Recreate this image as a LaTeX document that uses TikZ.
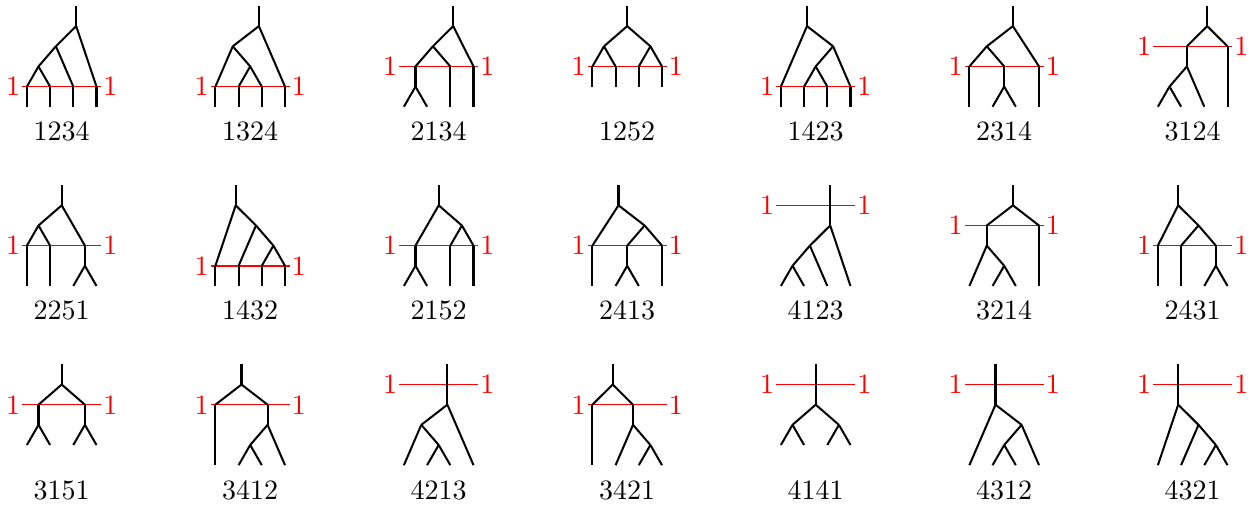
\documentclass[tikz,border=0pt]{standalone}
\begin{document}
\tikzset{
  treeat/.style 2 args={shift={(#1,#2)},x=8.2857pt,y=-7.1964pt},
  br/.style={line width=0.72pt,line join=round},
  paint/.style={red,line width=0.55pt},
  one/.style={text=red,inner sep=0.6pt},
  lab/.style={anchor=base,inner sep=0pt},
}
\newcommand\mypaint[2]{%
  \coordinate (#1pL) at (-0.2,#2);
  \coordinate (#1pR) at (3.2,#2);
  \draw[paint] (#1pL) -- (#1pR);
  \node[one,anchor=east] (#1oL) at (#1pL) {1};
  \node[one,anchor=west] (#1oR) at (#1pR) {1};}
\newcommand\myleaves[2]{%
  \foreach \i in {1,...,4} {\coordinate (#1l\i) at ({\i-1},#2);}}
\newcommand\mycross[2]{%
  \foreach \i in {1,...,4} {\coordinate (#1c\i) at ({\i-1},#2);}}
\newcommand\mylabel[2]{\node[lab] (#1t) at (1.5,6.687) {#2};}
\begin{tikzpicture}[x=0.35714pt,y=-0.35714pt]
\useasboundingbox (0,0) rectangle (1252,508);

% ---------------- Row 1 ----------------
% 1234
\begin{scope}[treeat={26.9}{6}]
\mypaint{a1}{4}\myleaves{a1}{5}\mycross{a1}{4}
\coordinate (a1s) at (2.125,0);
\coordinate (a1r) at (2.125,1);
\coordinate (a1n) at (1.25,2);
\coordinate (a1m) at (0.5,3);
\draw[br] (a1s) -- (a1r);
\draw[br] (a1r) -- (a1c4);
\draw[br] (a1r) -- (a1n);
\draw[br] (a1n) -- (a1c3);
\draw[br] (a1n) -- (a1m);
\draw[br] (a1m) -- (a1c2);
\draw[br] (a1m) -- (a1c1);
\foreach \i in {1,...,4} {\draw[br] (a1c\i) -- (a1l\i);}
\mylabel{a1}{1234}
\end{scope}
% 1324
\begin{scope}[treeat={215.4}{6}]
\mypaint{a2}{4}\myleaves{a2}{5}\mycross{a2}{4}
\coordinate (a2s) at (1.875,0);
\coordinate (a2r) at (1.875,1);
\coordinate (a2n) at (0.75,2);
\coordinate (a2m) at (1.5,3);
\draw[br] (a2s) -- (a2r);
\draw[br] (a2r) -- (a2n);
\draw[br] (a2r) -- (a2c4);
\draw[br] (a2n) -- (a2c1);
\draw[br] (a2n) -- (a2m);
\draw[br] (a2m) -- (a2c2);
\draw[br] (a2m) -- (a2c3);
\foreach \i in {1,...,4} {\draw[br] (a2c\i) -- (a2l\i);}
\mylabel{a2}{1324}
\end{scope}
% 2134
\begin{scope}[treeat={403.9}{6}]
\mypaint{a3}{3}\myleaves{a3}{5}
\coordinate (a3s) at (2.125,0);
\coordinate (a3r) at (2.125,1);
\coordinate (a3n) at (1.25,2);
\coordinate (a3ca) at (0.5,3);
\coordinate (a3cb) at (2,3);
\coordinate (a3cc) at (3,3);
\coordinate (a3v) at (0.5,4);
\draw[br] (a3s) -- (a3r);
\draw[br] (a3r) -- (a3n);
\draw[br] (a3r) -- (a3cc);
\draw[br] (a3n) -- (a3ca);
\draw[br] (a3n) -- (a3cb);
\draw[br] (a3ca) -- (a3v);
\draw[br] (a3v) -- (a3l1);
\draw[br] (a3v) -- (a3l2);
\draw[br] (a3cb) -- (a3l3);
\draw[br] (a3cc) -- (a3l4);
\mylabel{a3}{2134}
\end{scope}
% 1252
\begin{scope}[treeat={592.4}{6}]
\mypaint{a4}{3}\myleaves{a4}{4}\mycross{a4}{3}
\coordinate (a4s) at (1.5,0);
\coordinate (a4r) at (1.5,1);
\coordinate (a4n) at (0.5,2);
\coordinate (a4m) at (2.5,2);
\draw[br] (a4s) -- (a4r);
\draw[br] (a4r) -- (a4n);
\draw[br] (a4r) -- (a4m);
\draw[br] (a4n) -- (a4c1);
\draw[br] (a4n) -- (a4c2);
\draw[br] (a4m) -- (a4c3);
\draw[br] (a4m) -- (a4c4);
\foreach \i in {1,...,4} {\draw[br] (a4c\i) -- (a4l\i);}
\mylabel{a4}{1252}
\end{scope}
% 1423
\begin{scope}[treeat={780.9}{6}]
\mypaint{a5}{4}\myleaves{a5}{5}\mycross{a5}{4}
\coordinate (a5s) at (1.125,0);
\coordinate (a5r) at (1.125,1);
\coordinate (a5n) at (2.25,2);
\coordinate (a5m) at (1.5,3);
\draw[br] (a5s) -- (a5r);
\draw[br] (a5r) -- (a5c1);
\draw[br] (a5r) -- (a5n);
\draw[br] (a5n) -- (a5m);
\draw[br] (a5n) -- (a5c4);
\draw[br] (a5m) -- (a5c2);
\draw[br] (a5m) -- (a5c3);
\foreach \i in {1,...,4} {\draw[br] (a5c\i) -- (a5l\i);}
\mylabel{a5}{1423}
\end{scope}
% 2314
\begin{scope}[treeat={969.4}{6}]
\mypaint{a6}{3}\myleaves{a6}{5}
\coordinate (a6s) at (1.875,0);
\coordinate (a6r) at (1.875,1);
\coordinate (a6n) at (0.75,2);
\coordinate (a6ca) at (0,3);
\coordinate (a6cb) at (1.5,3);
\coordinate (a6cc) at (3,3);
\coordinate (a6v) at (1.5,4);
\draw[br] (a6s) -- (a6r);
\draw[br] (a6r) -- (a6n);
\draw[br] (a6r) -- (a6cc);
\draw[br] (a6n) -- (a6ca);
\draw[br] (a6n) -- (a6cb);
\draw[br] (a6ca) -- (a6l1);
\draw[br] (a6cb) -- (a6v);
\draw[br] (a6v) -- (a6l2);
\draw[br] (a6v) -- (a6l3);
\draw[br] (a6cc) -- (a6l4);
\mylabel{a6}{2314}
\end{scope}
% 3124
\begin{scope}[treeat={1157.9}{6}]
\mypaint{a7}{2}\myleaves{a7}{5}
\coordinate (a7s) at (2.125,0);
\coordinate (a7r) at (2.125,1);
\coordinate (a7ca) at (1.25,2);
\coordinate (a7cb) at (3,2);
\coordinate (a7n) at (1.25,3);
\coordinate (a7v) at (0.5,4);
\draw[br] (a7s) -- (a7r);
\draw[br] (a7r) -- (a7ca);
\draw[br] (a7r) -- (a7cb);
\draw[br] (a7ca) -- (a7n);
\draw[br] (a7n) -- (a7v);
\draw[br] (a7n) -- (a7l3);
\draw[br] (a7v) -- (a7l1);
\draw[br] (a7v) -- (a7l2);
\draw[br] (a7cb) -- (a7l4);
\mylabel{a7}{3124}
\end{scope}

% ---------------- Row 2 ----------------
% 2251
\begin{scope}[treeat={26.9}{185.2}]
\mypaint{b1}{3}\myleaves{b1}{5}
\coordinate (b1s) at (1.5,0);
\coordinate (b1r) at (1.5,1);
\coordinate (b1n) at (0.5,2);
\coordinate (b1ca) at (0,3);
\coordinate (b1cb) at (1,3);
\coordinate (b1cc) at (2.5,3);
\coordinate (b1v) at (2.5,4);
\draw[br] (b1s) -- (b1r);
\draw[br] (b1r) -- (b1n);
\draw[br] (b1r) -- (b1cc);
\draw[br] (b1n) -- (b1ca);
\draw[br] (b1n) -- (b1cb);
\draw[br] (b1ca) -- (b1l1);
\draw[br] (b1cb) -- (b1l2);
\draw[br] (b1cc) -- (b1v);
\draw[br] (b1v) -- (b1l3);
\draw[br] (b1v) -- (b1l4);
\mylabel{b1}{2251}
\end{scope}
% 1432
\begin{scope}[treeat={215.4}{185.2}]
\mypaint{b2}{4}\myleaves{b2}{5}\mycross{b2}{4}
\coordinate (b2s) at (0.875,0);
\coordinate (b2r) at (0.875,1);
\coordinate (b2n) at (1.75,2);
\coordinate (b2m) at (2.5,3);
\draw[br] (b2s) -- (b2r);
\draw[br] (b2r) -- (b2c1);
\draw[br] (b2r) -- (b2n);
\draw[br] (b2n) -- (b2c2);
\draw[br] (b2n) -- (b2m);
\draw[br] (b2m) -- (b2c3);
\draw[br] (b2m) -- (b2c4);
\foreach \i in {1,...,4} {\draw[br] (b2c\i) -- (b2l\i);}
\mylabel{b2}{1432}
\end{scope}
% 2152
\begin{scope}[treeat={403.9}{185.2}]
\mypaint{b3}{3}\myleaves{b3}{5}
\coordinate (b3s) at (1.5,0);
\coordinate (b3r) at (1.5,1);
\coordinate (b3n) at (2.5,2);
\coordinate (b3ca) at (0.5,3);
\coordinate (b3cb) at (2,3);
\coordinate (b3cc) at (3,3);
\coordinate (b3v) at (0.5,4);
\draw[br] (b3s) -- (b3r);
\draw[br] (b3r) -- (b3ca);
\draw[br] (b3r) -- (b3n);
\draw[br] (b3n) -- (b3cb);
\draw[br] (b3n) -- (b3cc);
\draw[br] (b3ca) -- (b3v);
\draw[br] (b3v) -- (b3l1);
\draw[br] (b3v) -- (b3l2);
\draw[br] (b3cb) -- (b3l3);
\draw[br] (b3cc) -- (b3l4);
\mylabel{b3}{2152}
\end{scope}
% 2413
\begin{scope}[treeat={592.4}{185.2}]
\mypaint{b4}{3}\myleaves{b4}{5}
\coordinate (b4s) at (1.125,0);
\coordinate (b4r) at (1.125,1);
\coordinate (b4n) at (2.25,2);
\coordinate (b4ca) at (0,3);
\coordinate (b4cb) at (1.5,3);
\coordinate (b4cc) at (3,3);
\coordinate (b4v) at (1.5,4);
\draw[br] (b4s) -- (b4r);
\draw[br] (b4r) -- (b4ca);
\draw[br] (b4r) -- (b4n);
\draw[br] (b4n) -- (b4cb);
\draw[br] (b4n) -- (b4cc);
\draw[br] (b4ca) -- (b4l1);
\draw[br] (b4cb) -- (b4v);
\draw[br] (b4v) -- (b4l2);
\draw[br] (b4v) -- (b4l3);
\draw[br] (b4cc) -- (b4l4);
\mylabel{b4}{2413}
\end{scope}
% 4123
\begin{scope}[treeat={780.9}{185.2}]
\mypaint{b5}{1}\myleaves{b5}{5}
\coordinate (b5s) at (2.125,0);
\coordinate (b5c) at (2.125,1);
\coordinate (b5r) at (2.125,2);
\coordinate (b5n) at (1.25,3);
\coordinate (b5v) at (0.5,4);
\draw[br] (b5s) -- (b5c) -- (b5r);
\draw[br] (b5r) -- (b5n);
\draw[br] (b5r) -- (b5l4);
\draw[br] (b5n) -- (b5v);
\draw[br] (b5n) -- (b5l3);
\draw[br] (b5v) -- (b5l1);
\draw[br] (b5v) -- (b5l2);
\mylabel{b5}{4123}
\end{scope}
% 3214
\begin{scope}[treeat={969.4}{185.2}]
\mypaint{b6}{2}\myleaves{b6}{5}
\coordinate (b6s) at (1.875,0);
\coordinate (b6r) at (1.875,1);
\coordinate (b6ca) at (0.75,2);
\coordinate (b6cb) at (3,2);
\coordinate (b6n) at (0.75,3);
\coordinate (b6v) at (1.5,4);
\draw[br] (b6s) -- (b6r);
\draw[br] (b6r) -- (b6ca);
\draw[br] (b6r) -- (b6cb);
\draw[br] (b6ca) -- (b6n);
\draw[br] (b6n) -- (b6l1);
\draw[br] (b6n) -- (b6v);
\draw[br] (b6v) -- (b6l2);
\draw[br] (b6v) -- (b6l3);
\draw[br] (b6cb) -- (b6l4);
\mylabel{b6}{3214}
\end{scope}
% 2431
\begin{scope}[treeat={1157.9}{185.2}]
\mypaint{b7}{3}\myleaves{b7}{5}
\coordinate (b7s) at (0.875,0);
\coordinate (b7r) at (0.875,1);
\coordinate (b7n) at (1.75,2);
\coordinate (b7ca) at (0,3);
\coordinate (b7cb) at (1,3);
\coordinate (b7cc) at (2.5,3);
\coordinate (b7v) at (2.5,4);
\draw[br] (b7s) -- (b7r);
\draw[br] (b7r) -- (b7ca);
\draw[br] (b7r) -- (b7n);
\draw[br] (b7n) -- (b7cb);
\draw[br] (b7n) -- (b7cc);
\draw[br] (b7ca) -- (b7l1);
\draw[br] (b7cb) -- (b7l2);
\draw[br] (b7cc) -- (b7v);
\draw[br] (b7v) -- (b7l3);
\draw[br] (b7v) -- (b7l4);
\mylabel{b7}{2431}
\end{scope}

% ---------------- Row 3 ----------------
% 3151
\begin{scope}[treeat={26.9}{364.4}]
\mypaint{c1}{2}\myleaves{c1}{4}
\coordinate (c1s) at (1.5,0);
\coordinate (c1r) at (1.5,1);
\coordinate (c1ca) at (0.5,2);
\coordinate (c1cb) at (2.5,2);
\coordinate (c1v) at (0.5,3);
\coordinate (c1w) at (2.5,3);
\draw[br] (c1s) -- (c1r);
\draw[br] (c1r) -- (c1ca);
\draw[br] (c1r) -- (c1cb);
\draw[br] (c1ca) -- (c1v);
\draw[br] (c1cb) -- (c1w);
\draw[br] (c1v) -- (c1l1);
\draw[br] (c1v) -- (c1l2);
\draw[br] (c1w) -- (c1l3);
\draw[br] (c1w) -- (c1l4);
\mylabel{c1}{3151}
\end{scope}
% 3412
\begin{scope}[treeat={215.4}{364.4}]
\mypaint{c2}{2}\myleaves{c2}{5}
\coordinate (c2s) at (1.125,0);
\coordinate (c2r) at (1.125,1);
\coordinate (c2ca) at (0,2);
\coordinate (c2cb) at (2.25,2);
\coordinate (c2n) at (2.25,3);
\coordinate (c2v) at (1.5,4);
\draw[br] (c2s) -- (c2r);
\draw[br] (c2r) -- (c2ca);
\draw[br] (c2r) -- (c2cb);
\draw[br] (c2ca) -- (c2l1);
\draw[br] (c2cb) -- (c2n);
\draw[br] (c2n) -- (c2v);
\draw[br] (c2n) -- (c2l4);
\draw[br] (c2v) -- (c2l2);
\draw[br] (c2v) -- (c2l3);
\mylabel{c2}{3412}
\end{scope}
% 4213
\begin{scope}[treeat={403.9}{364.4}]
\mypaint{c3}{1}\myleaves{c3}{5}
\coordinate (c3s) at (1.875,0);
\coordinate (c3c) at (1.875,1);
\coordinate (c3r) at (1.875,2);
\coordinate (c3n) at (0.75,3);
\coordinate (c3v) at (1.5,4);
\draw[br] (c3s) -- (c3c) -- (c3r);
\draw[br] (c3r) -- (c3n);
\draw[br] (c3r) -- (c3l4);
\draw[br] (c3n) -- (c3l1);
\draw[br] (c3n) -- (c3v);
\draw[br] (c3v) -- (c3l2);
\draw[br] (c3v) -- (c3l3);
\mylabel{c3}{4213}
\end{scope}
% 3421
\begin{scope}[treeat={592.4}{364.4}]
\mypaint{c4}{2}\myleaves{c4}{5}
\coordinate (c4s) at (0.875,0);
\coordinate (c4r) at (0.875,1);
\coordinate (c4ca) at (0,2);
\coordinate (c4cb) at (1.75,2);
\coordinate (c4n) at (1.75,3);
\coordinate (c4v) at (2.5,4);
\draw[br] (c4s) -- (c4r);
\draw[br] (c4r) -- (c4ca);
\draw[br] (c4r) -- (c4cb);
\draw[br] (c4ca) -- (c4l1);
\draw[br] (c4cb) -- (c4n);
\draw[br] (c4n) -- (c4l2);
\draw[br] (c4n) -- (c4v);
\draw[br] (c4v) -- (c4l3);
\draw[br] (c4v) -- (c4l4);
\mylabel{c4}{3421}
\end{scope}
% 4141
\begin{scope}[treeat={780.9}{364.4}]
\mypaint{c5}{1}\myleaves{c5}{4}
\coordinate (c5s) at (1.5,0);
\coordinate (c5c) at (1.5,1);
\coordinate (c5r) at (1.5,2);
\coordinate (c5v) at (0.5,3);
\coordinate (c5w) at (2.5,3);
\draw[br] (c5s) -- (c5c) -- (c5r);
\draw[br] (c5r) -- (c5v);
\draw[br] (c5r) -- (c5w);
\draw[br] (c5v) -- (c5l1);
\draw[br] (c5v) -- (c5l2);
\draw[br] (c5w) -- (c5l3);
\draw[br] (c5w) -- (c5l4);
\mylabel{c5}{4141}
\end{scope}
% 4312
\begin{scope}[treeat={969.4}{364.4}]
\mypaint{c6}{1}\myleaves{c6}{5}
\coordinate (c6s) at (1.125,0);
\coordinate (c6c) at (1.125,1);
\coordinate (c6r) at (1.125,2);
\coordinate (c6n) at (2.25,3);
\coordinate (c6v) at (1.5,4);
\draw[br] (c6s) -- (c6c) -- (c6r);
\draw[br] (c6r) -- (c6l1);
\draw[br] (c6r) -- (c6n);
\draw[br] (c6n) -- (c6v);
\draw[br] (c6n) -- (c6l4);
\draw[br] (c6v) -- (c6l2);
\draw[br] (c6v) -- (c6l3);
\mylabel{c6}{4312}
\end{scope}
% 4321
\begin{scope}[treeat={1157.9}{364.4}]
\mypaint{c7}{1}\myleaves{c7}{5}
\coordinate (c7s) at (0.875,0);
\coordinate (c7c) at (0.875,1);
\coordinate (c7r) at (0.875,2);
\coordinate (c7n) at (1.75,3);
\coordinate (c7v) at (2.5,4);
\draw[br] (c7s) -- (c7c) -- (c7r);
\draw[br] (c7r) -- (c7l1);
\draw[br] (c7r) -- (c7n);
\draw[br] (c7n) -- (c7l2);
\draw[br] (c7n) -- (c7v);
\draw[br] (c7v) -- (c7l3);
\draw[br] (c7v) -- (c7l4);
\mylabel{c7}{4321}
\end{scope}
\end{tikzpicture}
\end{document}
